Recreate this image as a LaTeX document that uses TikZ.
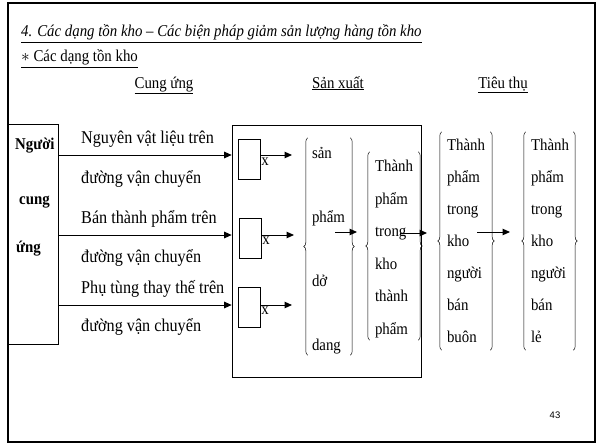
\documentclass[tikz,border=0pt]{standalone}
\usepackage{fontspec}
\setmainfont[FakeStretch=0.9]{Liberation Serif}
\setsansfont{Liberation Sans}
\usetikzlibrary{arrows.meta,decorations.pathreplacing}

\begin{document}
\begin{tikzpicture}[x=1pt,y=-1pt,
  every node/.style={inner sep=0pt},
  body/.style={font=\fontsize{16.5}{20}\selectfont},
  flow/.style={font=\fontsize{18}{20}\selectfont},
  bodyb/.style={font=\bfseries\fontsize{16.5}{20}\selectfont},
  bodyi/.style={font=\itshape\fontsize{16.5}{20}\selectfont},
  lbl/.style={anchor=base west},
  hdr/.style={body, anchor=base},
  stock/.style={align=left, inner xsep=5pt},
  brc/.style={decorate, decoration={brace, amplitude=4pt}, line width=0.5pt},
  arr/.style={line width=1pt, -{Triangle[length=7.5pt,width=6.5pt]}},
  bx/.style={draw, line width=0.6pt}
]
\useasboundingbox (0,0) rectangle (596,444);
% slide frame
\draw[line width=1.6pt] (8,3) rectangle (595,442);

% headings
\node[bodyi, lbl] (title) at (21,37) {\underline{4. Các dạng tồn kho – Các biện pháp giảm sản lượng hàng tồn kho}};
\node[body, lbl] (sub) at (21,62) {\underline{$\ast$ Các dạng tồn kho}};
\node[hdr] (h1) at (164,88) {\underline{Cung ứng}};
\node[hdr] (h2) at (338,88) {\underline{Sản xuất}};
\node[hdr] (h3) at (503,88) {\underline{Tiêu thụ}};

% supplier
\node[bx, minimum width=50pt, minimum height=220pt] (sup) at (33,234) {};
\node[bodyb, lbl] (sup1) at (15,149) {Người};
\node[bodyb, lbl] (sup2) at (19,204) {cung};
\node[bodyb, lbl] (sup3) at (16,252) {ứng};

% production block
\node[bx, minimum width=189pt, minimum height=252pt] (prod) at (326.5,251) {};
\node[bx, minimum width=22pt, minimum height=40pt] (b1) at (249,159) {};
\node[bx, minimum width=22pt, minimum height=40pt] (b2) at (250,238) {};
\node[bx, minimum width=22pt, minimum height=40pt] (b3) at (249,307) {};
\node[body] (x1) at (265,162) {x};
\node[body] (x2) at (266,241) {x};
\node[body] (x3) at (265,311) {x};

% inflow labels
\node[flow, lbl] (l1a) at (81,143) {Nguyên vật liệu trên};
\node[flow, lbl] (l1b) at (81,183) {đường vận chuyển};
\node[flow, lbl] (l2a) at (81,223) {Bán thành phẩm trên};
\node[flow, lbl] (l2b) at (81,262) {đường vận chuyển};
\node[flow, lbl] (l3a) at (81,293) {Phụ tùng thay thế trên};
\node[flow, lbl] (l3b) at (81,331) {đường vận chuyển};

% inflow rows
\coordinate (r1) at (0,155);
\coordinate (r2) at (0,235);
\coordinate (r3) at (0,305);
\draw[arr] (sup.east |- r1) -- (prod.west |- r1);
\draw[arr] (sup.east |- r2) -- (prod.west |- r2);
\draw[arr] (sup.east |- r3) -- (prod.west |- r3);
\coordinate (t1) at (292,155);
\coordinate (t2) at (294,235);
\coordinate (t3) at (292,305);
\draw[arr] (b1.east |- r1) -- (t1);
\draw[arr] (b2.east |- r2) -- (t2);
\draw[arr] (b3.east |- r3) -- (t3);

% stock groups (a strut on the first line pushes the text block down a little)
\node[stock, inner xsep=4pt, text width=34pt, minimum height=217pt, font=\fontsize{16.5}{64}\selectfont] (wip) at (329,246.5) {\rule{0pt}{20pt}sản\\phẩm\\dở\\dang};
\node[stock, text width=38pt, minimum height=188pt, font=\fontsize{16.5}{32.5}\selectfont] (fg) at (394,246) {\rule{0pt}{18pt}Thành\\phẩm\\trong\\kho\\thành\\phẩm};
\node[stock, text width=38pt, minimum height=218pt, font=\fontsize{16.5}{32}\selectfont] (ws) at (466,241) {Thành\\phẩm\\trong\\kho\\người\\bán\\buôn};
\node[stock, text width=37pt, minimum height=218pt, font=\fontsize{16.5}{32}\selectfont] (rt) at (549.5,241) {Thành\\phẩm\\trong\\kho\\người\\bán\\lẻ};
\foreach \n in {wip,fg,ws,rt}{
  \draw[brc] (\n.south west) -- (\n.north west);
  \draw[brc] (\n.north east) -- (\n.south east);
}

% flows between stocks
\coordinate (s1) at (335,232); \coordinate (e1) at (357,232);
\coordinate (s2) at (400,233); \coordinate (e2) at (427,233);
\coordinate (s3) at (477,232); \coordinate (e3) at (510,232);
\draw[arr] (s1) -- (e1);
\draw[arr] (s2) -- (e2);
\draw[arr] (s3) -- (e3);

% page number
\node[font=\sffamily\fontsize{9.5}{11}\selectfont] (pg) at (555,415) {43};
\end{tikzpicture}
\end{document}
